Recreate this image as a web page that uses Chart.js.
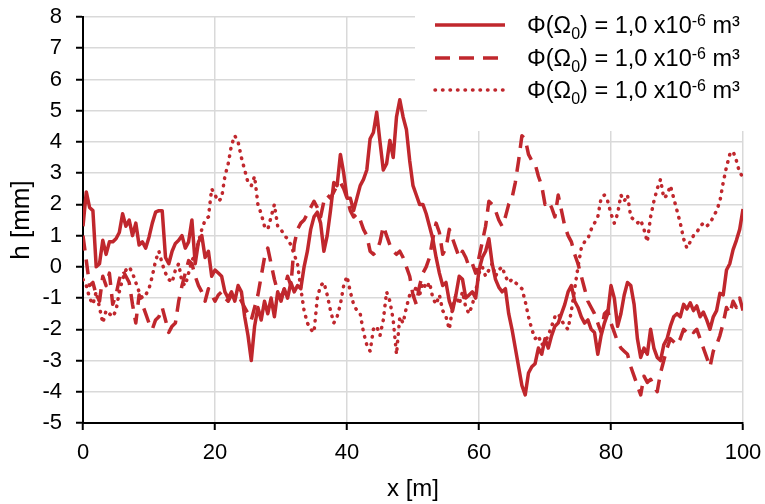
<!DOCTYPE html>
<html>
<head>
<meta charset="utf-8">
<script src="https://cdn.jsdelivr.net/npm/chart.js@4.4.1/dist/chart.umd.min.js"></script>
<style>
  html, body { margin: 0; padding: 0; background: #ffffff; }
  #wrap { width: 765px; height: 504px; }
</style>
</head>
<body>
<div id="wrap"><canvas id="chart" width="765" height="504"></canvas></div>
<script>
// Station positions along the profile [m]
const distance = [
  0,0.5,1,1.5,2,2.5,3,3.5,4,4.5, 5,5.5,6,6.5,7,7.5,8,8.5,9,9.5,
  10,10.5,11,11.5,12,12.5,13,13.5,14,14.5, 15,15.5,16,16.5,17,17.5,18,18.5,19,19.5,
  20,20.5,21,21.5,22,22.5,23,23.5,24,24.5, 25,25.5,26,26.5,27,27.5,28,28.5,29,29.5,
  30,30.5,31,31.5,32,32.5,33,33.5,34,34.5, 35,35.5,36,36.5,37,37.5,38,38.5,39,39.5,
  40,40.5,41,41.5,42,42.5,43,43.5,44,44.5, 45,45.5,46,46.5,47,47.5,48,48.5,49,49.5,
  50,50.5,51,51.5,52,52.5,53,53.5,54,54.5, 55,55.5,56,56.5,57,57.5,58,58.5,59,59.5,
  60,60.5,61,61.5,62,62.5,63,63.5,64,64.5, 65,65.5,66,66.5,67,67.5,68,68.5,69,69.5,
  70,70.5,71,71.5,72,72.5,73,73.5,74,74.5, 75,75.5,76,76.5,77,77.5,78,78.5,79,79.5,
  80,80.5,81,81.5,82,82.5,83,83.5,84,84.5, 85,85.5,86,86.5,87,87.5,88,88.5,89,89.5,
  90,90.5,91,91.5,92,92.5,93,93.5,94,94.5, 95,95.5,96,96.5,97,97.5,98,98.5,99,99.5,
  100
];

// Profile heights h [mm], first realisation (solid)
const profileSolid = [
  1.3,2.4,1.9,1.8,0.0,0.1,0.85,0.4,0.8,0.8,  0.9,1.1,1.7,1.3,1.5,1.0,1.4,0.7,0.8,0.6,
  0.95,1.4,1.75,1.8,1.8,0.3,0.1,0.5,0.75,0.85,  1.0,0.6,0.8,1.5,0.1,0.8,1.0,0.3,0.5,-0.3,
  -0.1,-0.2,-0.3,-0.8,-1.0,-0.8,-1.1,-0.6,-0.8,-1.6,  -2.2,-3.0,-1.9,-1.3,-1.7,-1.1,-1.5,-1.0,-1.6,-0.8,
  -1.1,-0.7,-1.0,-0.5,-0.8,-0.6,-0.7,0.0,0.5,1.2,  1.6,1.75,1.4,0.5,1.0,1.8,2.7,2.6,3.6,3.0,
  2.2,2.2,1.8,2.2,2.6,2.8,3.1,4.1,4.3,4.95,  4.0,3.1,3.3,4.05,3.5,4.8,5.35,4.8,4.4,3.4,
  2.6,2.3,2.0,2.0,1.7,1.3,0.9,0.3,-0.2,-0.6,  -0.5,-1.1,-1.4,-0.9,-0.3,-0.4,-1.0,-0.9,-0.8,-1.0,
  -0.1,0.3,0.5,0.9,0.1,-0.4,-0.65,-0.8,-0.7,-1.5,  -2.0,-2.6,-3.2,-3.8,-4.1,-3.4,-3.2,-3.1,-2.6,-2.8,
  -2.3,-2.6,-2.2,-1.9,-1.8,-1.5,-1.2,-0.8,-0.6,-1.1,  -1.3,-1.6,-1.8,-1.7,-2.0,-2.1,-2.8,-2.2,-1.8,-1.5,
  -0.6,-1.0,-1.9,-1.5,-0.9,-0.5,-0.6,-1.2,-2.3,-2.9,  -2.6,-2.8,-2.0,-2.6,-2.9,-3.0,-2.5,-2.3,-1.9,-1.6,
  -1.5,-1.6,-1.2,-1.35,-1.15,-1.4,-1.25,-1.6,-1.45,-1.7,  -2.0,-1.6,-1.4,-0.85,-0.9,-0.1,0.1,0.55,0.85,1.2,
  1.85
];

// Second realisation (dashed)
const profileDashed = [
  1.0,0.2,-0.6,-0.5,-0.9,-1.1,-0.3,-0.6,-0.2,-1.2,  -0.9,-0.4,-0.1,-0.3,-0.5,-1.2,-1.8,-0.9,-1.2,-1.5,
  -1.8,-2.0,-1.7,-1.6,-1.3,-1.7,-2.1,-1.9,-1.8,-1.1,  -0.6,-0.2,0.2,0.1,-0.3,-0.6,-0.8,-1.1,-0.7,-0.9,
  -1.1,-0.9,-0.8,-1.0,-1.1,-0.9,-1.0,-0.9,-1.1,-1.3,  -1.5,-1.7,-1.3,-0.9,-0.3,0.3,0.6,0.1,-0.4,-0.8,
  -1.0,-0.7,-0.3,-0.6,0.7,1.2,1.4,1.5,1.7,1.9,  2.1,1.9,1.6,2.1,2.3,2.2,2.4,2.6,2.7,2.5,
  2.2,1.8,1.6,1.7,1.5,1.2,1.0,0.5,0.4,0.5,  0.8,1.3,1.0,0.7,0.5,0.4,0.5,0.3,0.0,-0.3,
  -0.9,-1.2,-0.6,-0.2,0.0,0.3,0.9,1.4,1.1,0.4,  0.6,1.2,0.9,0.6,0.3,0.5,0.3,0.0,0.1,-0.2,
  0.3,0.8,1.3,2.1,2.0,1.8,1.5,1.3,1.6,2.0,  2.2,2.7,3.4,4.2,4.1,3.6,3.4,3.3,2.9,2.6,
  2.0,2.1,1.9,1.6,2.3,1.8,1.3,1.0,0.8,0.4,  0.1,-0.3,-0.7,-1.1,-1.3,-1.5,-1.8,-2.1,-1.5,-1.4,
  -1.8,-2.1,-2.4,-2.6,-2.7,-2.8,-3.2,-3.5,-3.8,-4.1,  -3.5,-3.7,-3.6,-3.8,-4.0,-3.4,-3.0,-2.6,-2.3,-2.4,
  -2.5,-2.3,-2.0,-2.1,-2.0,-2.1,-2.0,-2.3,-2.6,-2.9,  -3.2,-2.7,-2.5,-2.2,-1.8,-1.3,-1.5,-1.1,-1.3,-1.0,
  -1.4
];

// Third realisation (dotted)
const profileDotted = [
  -0.4,-0.6,-1.0,-1.2,-0.8,-1.3,-1.8,-1.4,-1.5,-1.6,  -1.4,-0.8,-0.4,-0.1,0.0,-0.2,-0.5,-0.8,-1.0,-0.9,
  -0.7,-0.3,0.2,0.5,0.1,-0.2,-0.4,-0.5,-0.1,0.1,  -0.5,-0.6,-0.2,0.2,0.4,0.8,1.2,1.5,1.6,2.5,
  2.3,2.1,2.2,2.9,3.3,3.9,4.2,4.0,3.5,3.1,  2.7,2.6,2.9,2.0,1.7,1.3,1.2,1.6,2.0,1.3,
  1.2,1.0,0.9,0.7,0.4,0.1,-0.7,-1.4,-1.8,-2.0,  -2.1,-1.0,-0.6,-0.5,-0.9,-1.4,-1.8,-1.6,-1.2,-0.6,
  -0.3,-0.8,-1.2,-1.4,-1.5,-2.1,-2.5,-2.7,-2.0,-1.9,  -2.2,-1.7,-0.8,-1.1,-1.7,-2.8,-1.6,-1.8,-1.3,-0.9,
  -1.0,-0.6,-0.9,-0.5,-0.7,-0.5,-1.0,-1.2,-0.9,-1.4,  -1.6,-2.0,-1.3,-0.9,-1.2,-0.8,-1.3,-1.5,-1.2,-0.8,
  -0.2,0.0,-0.3,-0.1,0.1,-0.3,-0.1,0.0,-0.3,-0.5,  -0.4,-0.5,-0.6,-0.7,-1.1,-1.6,-2.0,-2.3,-2.2,-2.5,
  -2.4,-2.2,-1.9,-1.6,-1.5,-1.7,-1.9,-2.0,-1.4,-0.7,  0.0,0.6,0.8,0.9,1.2,1.4,1.6,2.2,2.3,2.1,
  1.7,1.4,1.7,2.3,2.1,2.3,1.6,1.5,1.4,1.5,  1.2,0.8,1.6,2.1,2.5,2.8,2.2,2.3,2.6,2.2,
  1.8,1.4,0.9,0.6,0.8,1.0,1.1,1.3,1.4,1.3,  1.4,1.6,1.8,2.1,2.7,3.2,3.6,3.7,3.4,3.0,
  2.9
];

const seriesLabels = [
  'Φ(Ω₀) = 1,0 x10⁻⁶ m³',
  'Φ(Ω₀) = 1,0 x10⁻⁶ m³',
  'Φ(Ω₀) = 1,0 x10⁻⁶ m³'
];

const RED = '#C0272D';
const FONT = '"Liberation Sans", Arial, sans-serif';

function toPoints(values) {
  return values.map((v, i) => ({ x: distance[i], y: v }));
}

// Legend drawn by hand so that the subscript and superscript sit correctly
const richLegend = {
  id: 'richLegend',
  beforeDatasetsDraw(chart) {
    const ctx = chart.ctx;
    ctx.save();
    ctx.fillStyle = '#ffffff';
    ctx.fillRect(415, 0, 350, 106);
    ctx.fillRect(427, 106, 338, 25);
    ctx.restore();
  },
  afterDraw(chart) {
    const ctx = chart.ctx;
    const rows = [25, 58, 90];
    ctx.save();
    chart.data.datasets.forEach((ds, i) => {
      const y = rows[i];
      ctx.strokeStyle = ds.borderColor;
      ctx.lineWidth = ds.borderWidth;
      ctx.lineCap = ds.borderCapStyle || 'butt';
      ctx.setLineDash(ds.borderDash || []);
      ctx.beginPath();
      ctx.moveTo(435, y);
      ctx.lineTo(505, y);
      ctx.stroke();
      ctx.setLineDash([]);

      const parts = [
        { t: 'Φ(Ω', size: 23.5, dy: 0 },
        { t: '0', size: 16, dy: 8 },
        { t: ') = 1,0 x10', size: 23.5, dy: 0 },
        { t: '-6', size: 16, dy: -5 },
        { t: ' m³', size: 23.5, dy: 0 }
      ];
      let x = 527;
      ctx.fillStyle = '#000000';
      ctx.textBaseline = 'middle';
      ctx.textAlign = 'left';
      parts.forEach(p => {
        ctx.font = p.size + 'px ' + FONT;
        ctx.fillText(p.t, x, y + 1.5 + p.dy);
        x += ctx.measureText(p.t).width;
      });
    });
    ctx.restore();
  }
};

function dropScalePadding(scale) {
  scale.paddingTop = 0;
  scale.paddingBottom = 0;
  scale.paddingLeft = 0;
  scale.paddingRight = 0;
}

new Chart(document.getElementById('chart'), {
  type: 'line',
  data: {
    datasets: [
      {
        label: seriesLabels[0],
        data: toPoints(profileSolid),
        borderColor: RED,
        borderWidth: 3.5,
        borderJoinStyle: 'round',
        pointRadius: 0,
        tension: 0,
        fill: false
      },
      {
        label: seriesLabels[1],
        data: toPoints(profileDashed),
        borderColor: RED,
        borderWidth: 3.5,
        borderDash: [15, 9],
        borderJoinStyle: 'round',
        pointRadius: 0,
        tension: 0,
        fill: false
      },
      {
        label: seriesLabels[2],
        data: toPoints(profileDotted),
        borderColor: RED,
        borderWidth: 3.5,
        borderDash: [0.5, 7],
        borderCapStyle: 'round',
        borderJoinStyle: 'round',
        pointRadius: 0,
        tension: 0,
        fill: false
      }
    ]
  },
  options: {
    responsive: false,
    animation: false,
    devicePixelRatio: 1,
    layout: { padding: { top: 17, right: 22, left: 0, bottom: 0 } },
    plugins: {
      legend: { display: false },
      tooltip: { enabled: false }
    },
    scales: {
      x: {
        type: 'linear',
        min: 0,
        max: 100,
        afterFit(scale) { scale.height = 81; dropScalePadding(scale); },
        ticks: {
          stepSize: 20,
          color: '#000000',
          padding: 10,
          maxRotation: 0,
          font: { family: FONT, size: 22 }
        },
        grid: {
          color: '#d9d9d9',
          lineWidth: 1.5,
          tickLength: 7,
          tickColor: '#000000',
          tickWidth: 2
        },
        border: { display: true, color: '#000000', width: 2 },
        title: {
          display: true,
          text: 'x [m]',
          color: '#000000',
          font: { family: FONT, size: 24 },
          padding: { top: 0, bottom: 0 }
        }
      },
      y: {
        type: 'linear',
        min: -5,
        max: 8,
        afterFit(scale) { scale.width = 83; dropScalePadding(scale); },
        ticks: {
          stepSize: 1,
          color: '#000000',
          padding: 14,
          font: { family: FONT, size: 22 }
        },
        grid: {
          color: '#d9d9d9',
          lineWidth: 1.5,
          tickLength: 7,
          tickColor: '#000000',
          tickWidth: 2
        },
        border: { display: true, color: '#000000', width: 2 },
        title: {
          display: true,
          text: 'h [mm]',
          color: '#000000',
          font: { family: FONT, size: 26 },
          padding: { top: 6, bottom: 0 }
        }
      }
    }
  },
  plugins: [richLegend]
});
</script>
</body>
</html>
